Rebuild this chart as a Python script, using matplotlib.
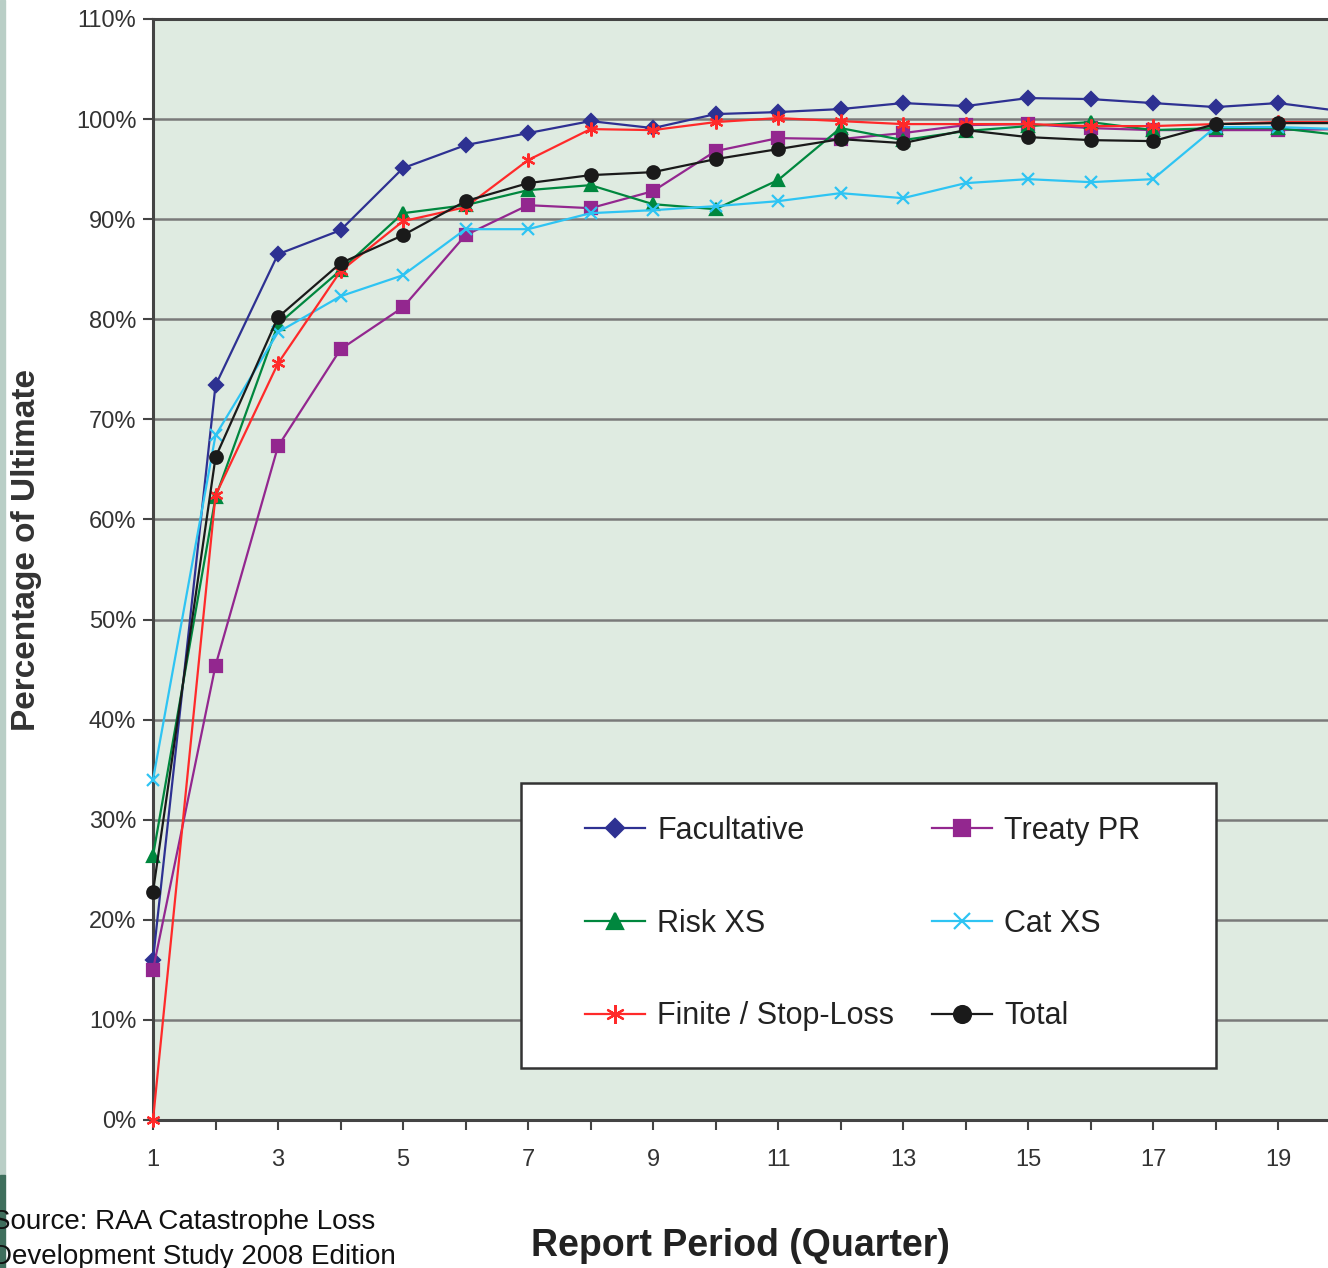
import numpy as np
import matplotlib
matplotlib.use("Agg")
from matplotlib import pyplot as plt
from matplotlib.ticker import MultipleLocator, FixedLocator

quarters = list(range(1, 21))

facultative = [16.0, 73.4, 86.5, 88.9, 95.1, 97.4, 98.6, 99.8, 99.1, 100.5,
               100.7, 101.0, 101.6, 101.3, 102.1, 102.0, 101.6, 101.2, 101.6, 100.8]
treaty_pr = [15.0, 45.4, 67.3, 77.0, 81.2, 88.4, 91.4, 91.1, 92.8, 96.8,
             98.1, 98.0, 98.6, 99.4, 99.5, 99.1, 98.9, 98.9, 98.9, 99.0]
risk_xs = [26.4, 62.2, 79.5, 84.9, 90.6, 91.4, 92.9, 93.4, 91.5, 91.0,
           93.9, 99.1, 97.9, 98.8, 99.3, 99.7, 98.9, 99.1, 99.1, 98.4]
cat_xs = [34.0, 68.4, 78.7, 82.3, 84.4, 89.0, 89.0, 90.6, 90.9, 91.3,
          91.8, 92.6, 92.1, 93.6, 94.0, 93.7, 94.0, 99.2, 99.2, 99.0]
finite_stop_loss = [0.0, 62.4, 75.6, 84.8, 89.8, 91.2, 95.9, 99.0, 98.9, 99.7,
                    100.1, 99.8, 99.5, 99.5, 99.5, 99.3, 99.3, 99.5, 99.7, 99.7]
total = [22.8, 66.2, 80.2, 85.6, 88.4, 91.8, 93.6, 94.4, 94.7, 96.0,
         97.0, 98.0, 97.6, 98.9, 98.2, 97.9, 97.8, 99.5, 99.6, 99.6]

fonts = ["Liberation Sans", "DejaVu Sans"]
plt.rcParams["font.family"] = fonts

W, H = 1328, 1268
fig = plt.figure(figsize=(W / 100, H / 100), dpi=100)
ax = fig.add_axes([153 / W, 1 - 1120 / H, 1 - 153 / W, 1101 / H])
ax.set_facecolor("#DFEBE1")

# series: label, values, colour, marker, marker size
series = [
    ("Facultative", facultative, "#2E3192", "D", 7),
    ("Treaty PR", treaty_pr, "#93278F", "s", 9),
    ("Risk XS", risk_xs, "#00873E", "^", 9),
    ("Cat XS", cat_xs, "#2EC4F3", "x", 9),
    ("Finite / Stop-Loss", finite_stop_loss, "#FF2A2A", (6, 2, 0), 10),
    ("Total", total, "#1A1A1A", "o", 9),
]
lines = {}
for label, vals, col, mk, ms in series:
    ln, = ax.plot(quarters, vals, color=col, lw=1.6, marker=mk, ms=ms,
                  mec=col, mfc=col, mew=1.6, label=label, clip_on=False, zorder=3)
    lines[label] = ln

ax.set_xlim(1, 19.8)
ax.set_ylim(0, 110)
ax.yaxis.set_major_locator(MultipleLocator(10))
ax.yaxis.set_major_formatter(lambda v, p: f"{v:.0f}%")
ax.xaxis.set_major_locator(FixedLocator(range(1, 21)))
ax.xaxis.set_major_formatter(lambda v, p: f"{v:.0f}" if int(v) % 2 == 1 else "")
ax.grid(axis="y", color="#7A7A7A", lw=1.8)
ax.set_axisbelow(True)
ax.tick_params(axis="both", direction="out", length=7, width=1.5, color="#444444",
               labelsize=17, labelcolor="#333333")
ax.tick_params(axis="x", pad=14)
ax.tick_params(axis="y", pad=5)
for s in ["left", "bottom", "top"]:
    ax.spines[s].set_color("#444444")
    ax.spines[s].set_linewidth(2.2)
ax.spines["right"].set_visible(False)

# legend box drawn separately, entries placed inside it
box = plt.Rectangle((521 / W, 1 - 1068 / H), 695 / W, 285 / H, transform=fig.transFigure,
                    facecolor="white", edgecolor="#333333", lw=1.8, zorder=4)
fig.patches.append(box)

order = ["Facultative", "Treaty PR", "Risk XS", "Cat XS", "Finite / Stop-Loss", "Total"]
handles = [lines[k] for k in order[0::2]] + [lines[k] for k in order[1::2]]
leg = fig.legend(handles=handles, ncol=2, loc="upper left",
                 bbox_to_anchor=(585 / W, 1 - 816 / H),
                 fontsize=22, frameon=False, markerscale=1.35,
                 labelspacing=2.05, handlelength=1.96, handletextpad=0.4,
                 borderpad=0, borderaxespad=0, columnspacing=1.25)
leg.set_zorder(5)
for t in leg.get_texts():
    t.set_color("#222222")

fig.text(27 / W, 1 - 550 / H, "Percentage of Ultimate", rotation=90,
         ha="center", va="center", fontsize=24, fontweight="bold", color="#333333")
fig.text(740 / W, 1 - 1246 / H, "Report Period (Quarter)", ha="center",
         va="center", fontsize=27, fontweight="bold", color="#222222")
fig.text(-8 / W, 1 - 1209 / H, "Source: RAA Catastrophe Loss\nDevelopment Study 2008 Edition",
         ha="left", va="top", fontsize=20, color="#111111", linespacing=1.45)

# left edge strip
fig.patches.append(plt.Rectangle((0, 1 - 1175 / H), 5 / W, 1175 / H,
                                 transform=fig.transFigure, color="#B9CEC6", zorder=0))
fig.patches.append(plt.Rectangle((0, 0), 5 / W, 93 / H,
                                 transform=fig.transFigure, color="#3E6E5C", zorder=0))

fig.savefig("out.png", dpi=100)
